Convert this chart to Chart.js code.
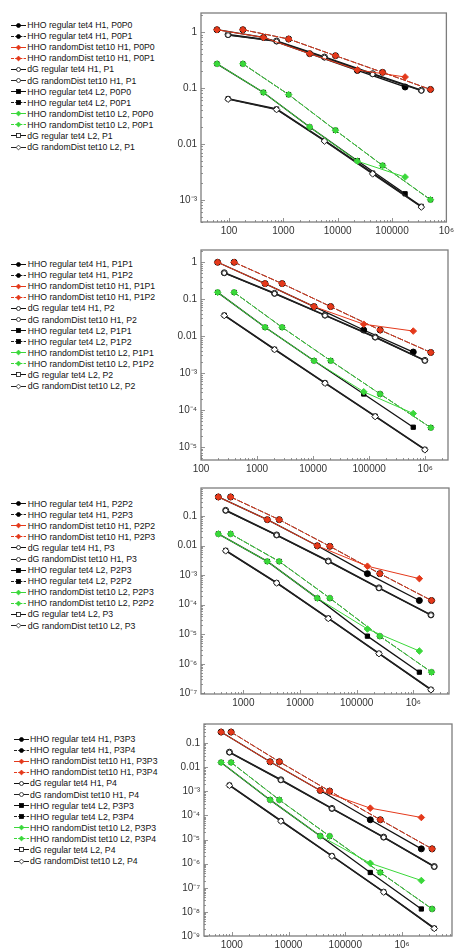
<!doctype html>
<html lang="en">
<head>
<meta charset="utf-8">
<title>HHO vs dG convergence</title>
<script src="https://cdn.jsdelivr.net/npm/chart.js"></script>
<style>
  body { margin: 0; background: #fff; width: 457px; height: 951px; position: relative; overflow: hidden;
         font-family: "Liberation Sans", Arial, sans-serif; }
  .panel { position: absolute; left: 160px; }
  .legend { position: absolute; font-size: 8.7px; color: #111; }
  .legend .row { height: 11.1px; display: flex; align-items: center; white-space: nowrap; }
  .legend svg { margin-right: 1.5px; flex: none; }
</style>
</head>
<body>

<script>
// ---- data (x = number of DOFs, y = error) ----
// series order in every panel:
// 0 HHO reg H1 PkPk, 1 HHO reg H1 PkPk+1, 2 HHO rand H1 PkPk, 3 HHO rand H1 PkPk+1,
// 4 dG reg H1, 5 dG rand H1, 6 HHO reg L2 PkPk, 7 HHO reg L2 PkPk+1,
// 8 HHO rand L2 PkPk, 9 HHO rand L2 PkPk+1, 10 dG reg L2, 11 dG rand L2
const xSource = ['kk', 'kk1', 'kk', 'kk1', 'dg', 'dg', 'kk', 'kk1', 'kk', 'kk1', 'dg', 'dg'];

// panel 1
const p1Labels = ['HHO regular tet4 H1, P0P0', 'HHO regular tet4 H1, P0P1', 'HHO randomDist tet10 H1, P0P0',
  'HHO randomDist tet10 H1, P0P1', 'dG regular tet4 H1, P1', 'dG randomDist tet10 H1, P1',
  'HHO regular tet4 L2, P0P0', 'HHO regular tet4 L2, P0P1', 'HHO randomDist tet10 L2, P0P0',
  'HHO randomDist tet10 L2, P0P1', 'dG regular tet4 L2, P1', 'dG randomDist tet10 L2, P1'];
const p1DofsKK = [60, 430, 3050, 23000, 174000];
const p1DofsKK1 = [180, 1250, 9100, 67000, 510000];
const p1DofsDG = [96, 750, 5700, 44000, 346000];
const p1Errors = [
  [1.1, 0.8, 0.41, 0.206, 0.104],
  [1.1, 0.75, 0.377, 0.19, 0.094],
  [1.1, 0.8, 0.41, 0.21, 0.157],
  [1.1, 0.75, 0.377, 0.19, 0.094],
  [0.9, 0.69, 0.357, 0.18, 0.091],
  [0.88, 0.68, 0.35, 0.175, 0.089],
  [0.27, 0.083, 0.020, 0.005, 0.00128],
  [0.27, 0.076, 0.0175, 0.0041, 0.001],
  [0.27, 0.083, 0.020, 0.0049, 0.00255],
  [0.27, 0.076, 0.0175, 0.0041, 0.001],
  [0.064, 0.042, 0.0115, 0.003, 0.00076],
  [0.063, 0.041, 0.0112, 0.0029, 0.00074]
];
const p1XTicks = [100, 1000, 10000, 100000, 1e6];
const p1XTickLabels = ['100', '1000', '10000', '100000', '10⁶'];
const p1YTicks = [1, 0.1, 0.01, 0.001];
const p1YTickLabels = ['1', '0.1', '0.01', '10⁻³'];

// panel 2
const p2Labels = ['HHO regular tet4 H1, P1P1', 'HHO regular tet4 H1, P1P2', 'HHO randomDist tet10 H1, P1P1',
  'HHO randomDist tet10 H1, P1P2', 'dG regular tet4 H1, P2', 'dG randomDist tet10 H1, P2',
  'HHO regular tet4 L2, P1P1', 'HHO regular tet4 L2, P1P2', 'HHO randomDist tet10 L2, P1P1',
  'HHO randomDist tet10 L2, P1P2', 'dG regular tet4 L2, P2', 'dG randomDist tet10 L2, P2'];
const p2DofsKK = [198, 1390, 10400, 80000, 612000];
const p2DofsKK1 = [390, 2800, 20600, 157000, 1260000];
const p2DofsDG = [260, 2050, 16300, 128000, 986000];
const p2Errors = [
  [1.0, 0.264, 0.063, 0.0146, 0.0037],
  [1.0, 0.264, 0.063, 0.0146, 0.0036],
  [1.0, 0.264, 0.063, 0.021, 0.0137],
  [1.0, 0.264, 0.063, 0.0146, 0.0036],
  [0.52, 0.144, 0.037, 0.0094, 0.0022],
  [0.51, 0.141, 0.036, 0.0092, 0.00215],
  [0.153, 0.0173, 0.00215, 2.7e-4, 3.4e-5],
  [0.153, 0.0173, 0.00215, 2.7e-4, 3.3e-5],
  [0.153, 0.0173, 0.00215, 3.1e-4, 8e-5],
  [0.153, 0.0173, 0.00215, 2.7e-4, 3.3e-5],
  [0.037, 0.0044, 5.4e-4, 6.8e-5, 8.5e-6],
  [0.036, 0.0043, 5.3e-4, 6.6e-5, 8.3e-6]
];
const p2XTicks = [100, 1000, 10000, 100000, 1e6];
const p2XTickLabels = ['100', '1000', '10000', '100000', '10⁶'];
const p2YTicks = [1, 0.1, 0.01, 1e-3, 1e-4, 1e-5];
const p2YTickLabels = ['1', '0.1', '0.01', '10⁻³', '10⁻⁴', '10⁻⁵'];

// panel 3
const p3Labels = ['HHO regular tet4 H1, P2P2', 'HHO regular tet4 H1, P2P3', 'HHO randomDist tet10 H1, P2P2',
  'HHO randomDist tet10 H1, P2P3', 'dG regular tet4 H1, P3', 'dG randomDist tet10 H1, P3',
  'HHO regular tet4 L2, P2P3', 'HHO regular tet4 L2, P2P2', 'HHO randomDist tet10 L2, P2P3',
  'HHO randomDist tet10 L2, P2P2', 'dG regular tet4 L2, P3', 'dG randomDist tet10 L2, P3'];
const p3DofsKK = [362, 2650, 20200, 155000, 1280000];
const p3DofsKK1 = [597, 4300, 33700, 257000, 2100000];
const p3DofsDG = [488, 3870, 31600, 248000, 2050000];
const p3Errors = [
  [0.44, 0.075, 0.0098, 0.00112, 1.38e-4],
  [0.44, 0.075, 0.0094, 0.00112, 1.38e-4],
  [0.44, 0.075, 0.0098, 0.002, 7.6e-4],
  [0.44, 0.075, 0.0094, 0.00112, 1.38e-4],
  [0.155, 0.0228, 0.003, 3.7e-4, 4.5e-5],
  [0.152, 0.0224, 0.0029, 3.6e-4, 4.4e-5],
  [0.0247, 0.0029, 1.66e-4, 8.6e-6, 5.2e-7],
  [0.0247, 0.0029, 1.66e-4, 8.6e-6, 5.2e-7],
  [0.0247, 0.0029, 1.66e-4, 1.5e-5, 2.7e-6],
  [0.0247, 0.0029, 1.66e-4, 8.6e-6, 5.2e-7],
  [0.0068, 5.5e-4, 3.5e-5, 2.24e-6, 1.35e-7],
  [0.0066, 5.4e-4, 3.4e-5, 2.2e-6, 1.32e-7]
];
const p3XTicks = [1000, 10000, 100000, 1e6];
const p3XTickLabels = ['1000', '10000', '100000', '10⁶'];
const p3YTicks = [0.1, 0.01, 1e-3, 1e-4, 1e-5, 1e-6, 1e-7];
const p3YTickLabels = ['0.1', '0.01', '10⁻³', '10⁻⁴', '10⁻⁵', '10⁻⁶', '10⁻⁷'];

// panel 4
const p4Labels = ['HHO regular tet4 H1, P3P3', 'HHO regular tet4 H1, P3P4', 'HHO randomDist tet10 H1, P3P3',
  'HHO randomDist tet10 H1, P3P4', 'dG regular tet4 H1, P4', 'dG randomDist tet10 H1, P4',
  'HHO regular tet4 L2, P3P3', 'HHO regular tet4 L2, P3P4', 'HHO randomDist tet10 L2, P3P3',
  'HHO randomDist tet10 L2, P3P4', 'dG regular tet4 L2, P4', 'dG randomDist tet10 L2, P4'];
const p4DofsKK = [649, 4740, 36200, 276000, 2190000];
const p4DofsKK1 = [973, 6900, 53000, 415000, 3390000];
const p4DofsDG = [910, 7330, 58200, 475000, 3700000];
const p4Errors = [
  [0.286, 0.0168, 1.08e-3, 6.6e-5, 4.1e-6],
  [0.286, 0.0168, 1.02e-3, 6.6e-5, 4.1e-6],
  [0.286, 0.0168, 1.08e-3, 2e-4, 8.2e-5],
  [0.286, 0.0168, 1.02e-3, 6.6e-5, 4.1e-6],
  [0.042, 0.003, 1.95e-4, 1.26e-5, 7.6e-7],
  [0.041, 0.0029, 1.9e-4, 1.23e-5, 7.4e-7],
  [0.0157, 4.4e-4, 1.4e-5, 4.3e-7, 1.32e-8],
  [0.0157, 4.4e-4, 1.38e-5, 4.3e-7, 1.32e-8],
  [0.0157, 4.4e-4, 1.4e-5, 1.04e-6, 2e-7],
  [0.0157, 4.4e-4, 1.38e-5, 4.3e-7, 1.32e-8],
  [1.8e-3, 6e-5, 2.1e-6, 6.8e-8, 2.1e-9],
  [1.75e-3, 5.8e-5, 2.05e-6, 6.6e-8, 2.05e-9]
];
const p4XTicks = [1000, 10000, 100000, 1e6];
const p4XTickLabels = ['1000', '10000', '100000', '10⁶'];
const p4YTicks = [0.1, 0.01, 1e-3, 1e-4, 1e-5, 1e-6, 1e-7, 1e-8, 1e-9];
const p4YTickLabels = ['0.1', '0.01', '10⁻³', '10⁻⁴', '10⁻⁵', '10⁻⁶', '10⁻⁷', '10⁻⁸', '10⁻⁹'];

// ---- styles per series ----
const RED = '#e4391b';
const GREEN = '#3ad83a';
const DASH = [6, 1.5];
const styles = [
  { color: '#111', fill: '#000', edge: '#000', marker: 'circle', r: 3, dash: [], w: 1.3, order: 4 },
  { color: '#222', fill: '#000', edge: '#000', marker: 'circle', r: 3, dash: DASH, w: 1, order: 4 },
  { color: RED, fill: RED, edge: RED, marker: 'rectRot', r: 3.3, dash: [], w: 1, order: 0 },
  { color: RED, fill: RED, edge: RED, marker: 'rectRot', r: 3.3, dash: DASH, w: 1, order: 1 },
  { color: '#111', fill: '#fff', edge: '#111', marker: 'circle', r: 3, dash: [], w: 1.6, order: 3 },
  { color: '#222', fill: '#fff', edge: '#222', marker: 'circle', r: 2.4, dash: [], w: 1.2, order: 2 },
  { color: '#111', fill: '#000', edge: '#000', marker: 'rect', r: 3, dash: [], w: 1.3, order: 4 },
  { color: '#222', fill: '#000', edge: '#000', marker: 'rect', r: 3, dash: DASH, w: 1, order: 4 },
  { color: GREEN, fill: GREEN, edge: GREEN, marker: 'rectRot', r: 3.3, dash: [], w: 1, order: 0 },
  { color: GREEN, fill: GREEN, edge: GREEN, marker: 'rectRot', r: 3.3, dash: DASH, w: 1, order: 1 },
  { color: '#111', fill: '#fff', edge: '#111', marker: 'rect', r: 3, dash: [], w: 1.6, order: 3 },
  { color: '#222', fill: '#fff', edge: '#222', marker: 'rectRot', r: 3.3, dash: [], w: 1.2, order: 2 }
];

// ---- panel layout ----
const panels = [
  { top: 0, h: 240, padTop: 13, axisH: 18, yAxisW: 41, padRight: 9, legTop: 19.5, legLeft: 10.7,
    xMin: 30.5, xMax: 1e6, yMin: 4e-4, yMax: 2.19,
    labels: p1Labels, kk: p1DofsKK, kk1: p1DofsKK1, dg: p1DofsDG, err: p1Errors,
    xt: p1XTicks, xtl: p1XTickLabels, yt: p1YTicks, ytl: p1YTickLabels },
  { top: 240, h: 235, padTop: 10, axisH: 15, yAxisW: 41, padRight: 9, legTop: 258.5, legLeft: 11.2,
    xMin: 100, xMax: 2.55e6, yMin: 4.4e-6, yMax: 2.15,
    labels: p2Labels, kk: p2DofsKK, kk1: p2DofsKK1, dg: p2DofsDG, err: p2Errors,
    xt: p2XTicks, xtl: p2XTickLabels, yt: p2YTicks, ytl: p2YTickLabels },
  { top: 475, h: 235, padTop: 13, axisH: 16, yAxisW: 41, padRight: 8, legTop: 498, legLeft: 11.2,
    xMin: 179, xMax: 4.27e6, yMin: 9.5e-8, yMax: 0.883,
    labels: p3Labels, kk: p3DofsKK, kk1: p3DofsKK1, dg: p3DofsDG, err: p3Errors,
    xt: p3XTicks, xtl: p3XTickLabels, yt: p3YTicks, ytl: p3YTickLabels },
  { top: 710, h: 241, padTop: 14, axisH: 15, yAxisW: 44, padRight: 5, legTop: 733.5, legLeft: 13.5,
    xMin: 324, xMax: 7.6e6, yMin: 1e-9, yMax: 0.617,
    labels: p4Labels, kk: p4DofsKK, kk1: p4DofsKK1, dg: p4DofsDG, err: p4Errors,
    xt: p4XTicks, xtl: p4XTickLabels, yt: p4YTicks, ytl: p4YTickLabels }
];

function logTicks(min, max) {
  const out = [];
  for (let d = Math.floor(Math.log10(min)); d <= Math.ceil(Math.log10(max)); d++) {
    for (let m = 1; m <= 9; m++) {
      const v = m * Math.pow(10, d);
      if (v >= min * 0.9999 && v <= max * 1.0001) out.push({ value: v, isMajor: m === 1 });
    }
  }
  return out;
}

function labelFor(values, labels) {
  return function (value) {
    for (let i = 0; i < values.length; i++) {
      if (Math.abs(Math.log10(value) - Math.log10(values[i])) < 1e-6) return labels[i];
    }
    return '';
  };
}

// frame + inward tick marks
const framePlugin = {
  id: 'frame',
  afterDraw(chart) {
    const { ctx, chartArea: a, scales } = chart;
    ctx.save();
    ctx.strokeStyle = '#666';
    ctx.lineWidth = 0.7;
    scales.x.ticks.forEach(t => {
      const px = Math.round(scales.x.getPixelForValue(t.value)) + 0.5;
      const len = t.isMajor ? 4 : 2;
      ctx.beginPath(); ctx.moveTo(px, a.bottom); ctx.lineTo(px, a.bottom - len); ctx.stroke();
    });
    scales.y.ticks.forEach(t => {
      const py = Math.round(scales.y.getPixelForValue(t.value)) + 0.5;
      const len = t.isMajor ? 4 : 2;
      ctx.beginPath(); ctx.moveTo(a.left, py); ctx.lineTo(a.left + len, py); ctx.stroke();
    });
    ctx.strokeStyle = '#7d7d7d';
    ctx.lineWidth = 1.3;
    ctx.strokeRect(a.left, a.top, a.right - a.left, a.bottom - a.top);
    ctx.restore();
  }
};

function legendIcon(st) {
  const cx = 7.5, cy = 4.5, r = 2;
  const sw = 0.8;
  let m;
  if (st.marker === 'circle') {
    m = `<circle cx="${cx}" cy="${cy}" r="${r}" fill="${st.fill}" stroke="${st.edge}" stroke-width="${sw}"/>`;
  } else if (st.marker === 'rect') {
    m = `<rect x="${cx - r}" y="${cy - r}" width="${2 * r}" height="${2 * r}" fill="${st.fill}" stroke="${st.edge}" stroke-width="${sw}"/>`;
  } else {
    const q = r + 0.4;
    m = `<polygon points="${cx},${cy - q} ${cx + q},${cy} ${cx},${cy + q} ${cx - q},${cy}" fill="${st.fill}" stroke="${st.edge}" stroke-width="${sw}"/>`;
  }
  const dash = st.dash.length ? 'stroke-dasharray="3,1.2"' : '';
  return `<svg width="15" height="9"><line x1="0" y1="${cy}" x2="15" y2="${cy}" stroke="${st.color}" stroke-width="1" ${dash}/>${m}</svg>`;
}

panels.forEach(p => {
  // legend
  const leg = document.createElement('div');
  leg.className = 'legend';
  leg.style.left = p.legLeft + 'px';
  leg.style.top = p.legTop + 'px';
  p.labels.forEach((txt, i) => {
    const row = document.createElement('div');
    row.className = 'row';
    row.innerHTML = legendIcon(styles[i]) + '<span>' + txt + '</span>';
    leg.appendChild(row);
  });
  document.body.appendChild(leg);

  // chart
  const box = document.createElement('div');
  box.className = 'panel';
  box.style.top = p.top + 'px';
  const canvas = document.createElement('canvas');
  canvas.width = 297;
  canvas.height = p.h;
  canvas.style.width = '297px';
  canvas.style.height = p.h + 'px';
  box.appendChild(canvas);
  document.body.appendChild(box);

  const datasets = p.err.map((ys, i) => {
    const xs = p[xSource[i]];
    const st = styles[i];
    return {
      label: p.labels[i],
      data: ys.map((y, j) => ({ x: xs[j], y: y })),
      borderColor: st.color,
      borderWidth: st.w,
      borderDash: st.dash,
      backgroundColor: st.fill,
      pointStyle: st.marker,
      pointRadius: st.r,
      pointBackgroundColor: st.fill,
      pointBorderColor: st.edge,
      pointBorderWidth: 1,
      fill: false,
      tension: 0,
      order: st.order
    };
  });

  new Chart(canvas.getContext('2d'), {
    type: 'line',
    data: { datasets: datasets },
    options: {
      responsive: false,
      animation: false,
      events: [],
      layout: { padding: { top: p.padTop, right: p.padRight, left: 0, bottom: 0 } },
      plugins: { legend: { display: false }, tooltip: { enabled: false } },
      scales: {
        x: {
          type: 'logarithmic',
          min: p.xMin,
          max: p.xMax,
          grid: { display: false, drawTicks: false },
          border: { display: false },
          afterBuildTicks: s => { s.ticks = logTicks(p.xMin, p.xMax); },
          afterFit: s => { s.height = p.axisH; },
          ticks: {
            autoSkip: false, maxRotation: 0, padding: 3,
            color: '#333', font: { family: '"Liberation Sans", Arial, sans-serif', size: 10 },
            callback: labelFor(p.xt, p.xtl)
          }
        },
        y: {
          type: 'logarithmic',
          min: p.yMin,
          max: p.yMax,
          grid: { display: false, drawTicks: false },
          border: { display: false },
          afterBuildTicks: s => { s.ticks = logTicks(p.yMin, p.yMax); },
          afterFit: s => { s.width = p.yAxisW; },
          ticks: {
            autoSkip: false, padding: 4,
            color: '#333', font: { family: '"Liberation Sans", Arial, sans-serif', size: 10 },
            callback: labelFor(p.yt, p.ytl)
          }
        }
      }
    },
    plugins: [framePlugin]
  });
});
</script>
</body>
</html>
